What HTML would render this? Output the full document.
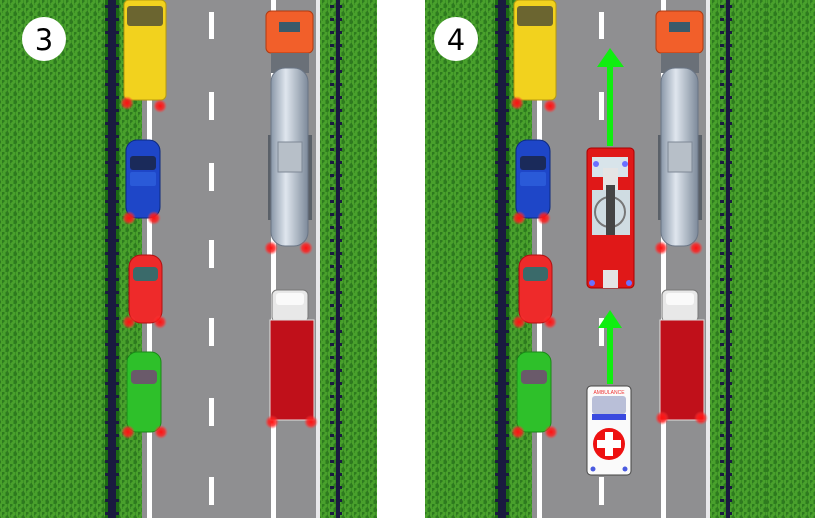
<!DOCTYPE html>
<html><head><meta charset="utf-8"><style>
html,body{margin:0;padding:0;background:#fff;width:815px;height:518px;overflow:hidden}
svg{display:block}
</style></head><body>
<svg width="815" height="518" viewBox="0 0 815 518" xmlns="http://www.w3.org/2000/svg">
<defs>
<pattern id="grass" width="8" height="8" patternUnits="userSpaceOnUse">
<rect width="8" height="8" fill="#3a8f24"/>
<path d="M1 0v5M4 2v6M6 0v4M2 5v3" stroke="#58b035" stroke-width="1"/>
<path d="M3 0v3M7 3v5M0 4v3" stroke="#23661a" stroke-width="1"/>
</pattern>
<pattern id="posts" width="14" height="13" patternUnits="userSpaceOnUse">
<rect x="0" y="0" width="14" height="13" fill="#1c6a14"/>
<rect x="0" y="0" width="4" height="13" fill="#1a1a40"/>
<rect x="10" y="0" width="4" height="13" fill="#1a1a40"/>
<rect x="4" y="5" width="6" height="3" fill="#1a1a40"/>
</pattern>
<pattern id="rposts" width="12" height="13" patternUnits="userSpaceOnUse">
<rect x="0" y="0" width="4" height="13" fill="#1a1a40"/>
<rect x="4" y="5" width="6" height="3" fill="#1a1a40"/>
</pattern>
<radialGradient id="glow"><stop offset="0" stop-color="#ff1010"/><stop offset="0.55" stop-color="#ff2020" stop-opacity="0.8"/><stop offset="1" stop-color="#ff4040" stop-opacity="0"/></radialGradient>
<linearGradient id="tank" x1="0" x2="1"><stop offset="0" stop-color="#8a97a8"/><stop offset="0.4" stop-color="#dfe6ee"/><stop offset="1" stop-color="#7d8a9a"/></linearGradient>
<g id="road">
<rect x="0" y="0" width="105" height="518" fill="url(#grass)"/>
<rect x="105" y="0" width="14" height="518" fill="url(#posts)"/>
<rect x="119" y="0" width="23" height="518" fill="url(#grass)"/>
<rect x="142" y="0" width="178" height="518" fill="#8f8f91"/>
<rect x="147" y="0" width="5" height="518" fill="#fff"/>
<rect x="271" y="0" width="5" height="518" fill="#fff"/>
<rect x="316" y="0" width="4" height="518" fill="#e8e8ea"/>
<g fill="#fff">
<rect x="209" y="12" width="5" height="27"/><rect x="209" y="92" width="5" height="28"/><rect x="209" y="163" width="5" height="28"/><rect x="209" y="240" width="5" height="28"/><rect x="209" y="318" width="5" height="28"/><rect x="209" y="398" width="5" height="28"/><rect x="209" y="477" width="5" height="28"/>
</g>
<rect x="320" y="0" width="60" height="518" fill="url(#grass)"/>
<rect x="330" y="0" width="12" height="518" fill="url(#rposts)"/>
<rect x="124" y="0" width="42" height="100" rx="5" fill="#f2d21e" stroke="#b59a10"/>
<rect x="127" y="6" width="36" height="20" rx="3" fill="#6b6530"/>
<rect x="126" y="140" width="34" height="78" rx="11" fill="#1e46c8" stroke="#0c2a80"/>
<rect x="130" y="156" width="26" height="14" rx="3" fill="#1a2a5a"/>
<rect x="130" y="172" width="26" height="14" rx="2" fill="#2a5ad8"/>
<rect x="129" y="255" width="33" height="68" rx="12" fill="#ee2a2a" stroke="#b01010"/>
<rect x="133" y="267" width="25" height="14" rx="4" fill="#3a6a6a"/>
<rect x="127" y="352" width="34" height="80" rx="10" fill="#2ec02a" stroke="#198a16"/>
<rect x="131" y="370" width="26" height="14" rx="4" fill="#6a5a6a"/>
<rect x="266" y="11" width="47" height="42" rx="5" fill="#f25f2a" stroke="#b03a10"/>
<rect x="279" y="22" width="21" height="10" fill="#3a5a6a"/>
<rect x="271" y="53" width="38" height="20" fill="#6a7078"/>
<rect x="268" y="135" width="4" height="85" fill="#5a6068"/><rect x="308" y="135" width="4" height="85" fill="#5a6068"/>
<rect x="271" y="68" width="37" height="178" rx="14" fill="url(#tank)" stroke="#6a7585"/>
<rect x="278" y="142" width="24" height="30" fill="#b7bfc8" stroke="#7d8795"/>
<rect x="272" y="290" width="36" height="32" rx="5" fill="#e8e8e8" stroke="#777"/>
<rect x="276" y="293" width="28" height="12" rx="3" fill="#fafafa"/>
<rect x="270" y="320" width="44" height="100" fill="#c0101a" stroke="#e0e0e0"/>
</g>
<circle id="g" r="7" fill="url(#glow)"/>
</defs>

<use href="#road"/>
<g>
<use href="#g" x="127" y="103"/><use href="#g" x="160" y="106"/>
<use href="#g" x="129" y="218"/><use href="#g" x="154" y="218"/>
<use href="#g" x="129" y="322"/><use href="#g" x="160" y="322"/>
<use href="#g" x="128" y="432"/><use href="#g" x="161" y="432"/>
<use href="#g" x="271" y="248"/><use href="#g" x="306" y="248"/>
<use href="#g" x="272" y="422"/><use href="#g" x="311" y="422"/>
</g>

<rect x="377" y="0" width="48" height="518" fill="#fff"/>
<g transform="translate(390,0)"><use href="#road"/>
<use href="#g" x="127" y="103"/><use href="#g" x="160" y="106"/>
<use href="#g" x="129" y="218"/><use href="#g" x="154" y="218"/>
<use href="#g" x="129" y="322"/><use href="#g" x="160" y="322"/>
<use href="#g" x="128" y="432"/><use href="#g" x="161" y="432"/>
<use href="#g" x="271" y="248"/><use href="#g" x="306" y="248"/>
<use href="#g" x="272" y="418"/><use href="#g" x="311" y="418"/>
</g>
<rect x="390" y="0" width="35" height="518" fill="#fff"/>
<rect x="766" y="0" width="49" height="518" fill="url(#grass)"/>

<rect x="587" y="148" width="47" height="140" rx="4" fill="#e01818" stroke="#a00"/>
<rect x="592" y="157" width="36" height="20" fill="#d8e4ea"/>
<rect x="603" y="168" width="15" height="60" fill="#e4e4e4"/>
<rect x="592" y="190" width="38" height="45" fill="#cfdce2"/>
<circle cx="610" cy="212" r="15" fill="none" stroke="#777" stroke-width="2"/>
<rect x="606" y="185" width="9" height="50" fill="#444"/>
<rect x="603" y="270" width="15" height="18" fill="#e4e4e4"/>
<circle cx="596" cy="164" r="3" fill="#6a70ff"/><circle cx="625" cy="164" r="3" fill="#6a70ff"/>
<circle cx="592" cy="283" r="3" fill="#6a70ff"/><circle cx="629" cy="283" r="3" fill="#6a70ff"/>
<rect x="587" y="386" width="44" height="89" rx="4" fill="#fafafa" stroke="#444"/>
<rect x="592" y="396" width="34" height="18" rx="3" fill="#b9bfd8"/>
<rect x="592" y="414" width="34" height="6" fill="#3a4adf"/>
<circle cx="609" cy="444" r="16" fill="#e11"/>
<rect x="597" y="440" width="24" height="8" fill="#fff"/><rect x="605" y="432" width="8" height="24" fill="#fff"/>
<text x="609" y="394" font-family="Liberation Sans, sans-serif" font-size="5" fill="#e33" text-anchor="middle">AMBULANCE</text>
<circle cx="593" cy="469" r="2.5" fill="#4a5ae0"/><circle cx="625" cy="469" r="2.5" fill="#4a5ae0"/>
<g fill="#10ee10">
<rect x="607" y="66" width="6" height="80"/><polygon points="597,67 624,67 610,48"/>
<rect x="607" y="328" width="6" height="56"/><polygon points="598,328 622,328 610,310"/>
</g>
<circle cx="44" cy="39" r="22" fill="#fff"/>
<text x="44" y="50" font-family="DejaVu Sans, sans-serif" font-size="29" text-anchor="middle" fill="#000">3</text>
<circle cx="456" cy="39" r="22" fill="#fff"/>
<text x="456" y="50" font-family="DejaVu Sans, sans-serif" font-size="29" text-anchor="middle" fill="#000">4</text>
</svg>
</body></html>
